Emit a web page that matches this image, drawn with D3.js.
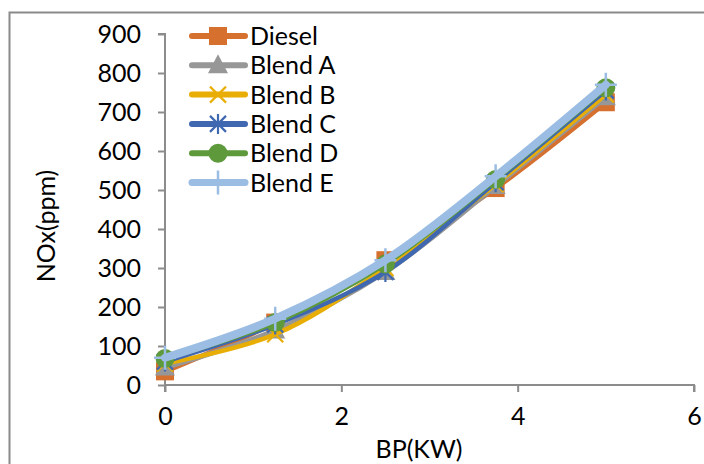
<!DOCTYPE html>
<html><head><meta charset="utf-8">
<script src="https://cdn.jsdelivr.net/npm/d3@7"></script>
<style>html,body{margin:0;padding:0;background:#fff;}svg{display:block;}</style>
</head><body>
<svg id="c" width="704" height="464"></svg>
<script>
const xValues = [0, 1.25, 2.5, 3.75, 5];
const seriesNames = ["Diesel", "Blend A", "Blend B", "Blend C", "Blend D", "Blend E"];
const diesel = [35, 160, 320, 505, 725];
const blendA = [45, 140, 290, 510, 738];
const blendB = [55, 130, 300, 515, 745];
const blendC = [60, 155, 290, 520, 755];
const blendD = [68, 160, 310, 527, 762];
const blendE = [70, 170, 320, 535, 770];
const xTicks = [0, 2, 4, 6];
const yTicks = [0, 100, 200, 300, 400, 500, 600, 700, 800, 900];

const colors = ["#D6702E", "#979797", "#E9AE06", "#3F68B1", "#5E9A3B", "#9BBDE3"];
const widths = [5, 5, 4.5, 4.5, 4.5, 8];
const markers = ["square", "triangle", "x", "star", "circle", "plus"];
const allSeries = [diesel, blendA, blendB, blendC, blendD, blendE];

const svg = d3.select("#c");
const font = "Lato, 'Open Sans', sans-serif";
const fsize = "25px";
const axisColor = "#8c8c8c";

svg.append("rect").attr("x", 9.5).attr("y", 12.5).attr("width", 720).attr("height", 480)
  .attr("fill", "none").attr("stroke", "#8a8a8a").attr("stroke-width", 2);

const x = d3.scaleLinear().domain([0, 6]).range([165, 694]);
const y = d3.scaleLinear().domain([0, 900]).range([385, 34]);

const yAxis = svg.append("g").attr("transform", "translate(165,0)")
  .call(d3.axisLeft(y).tickValues(yTicks).tickSize(7).tickPadding(17).tickFormat(d3.format("d")));
const xAxis = svg.append("g").attr("transform", "translate(0,385)")
  .call(d3.axisBottom(x).tickValues(xTicks).tickSize(7).tickPadding(15).tickFormat(d3.format("d")));
[yAxis, xAxis].forEach(g => {
  g.select(".domain").attr("stroke", axisColor).attr("stroke-width", 2);
  g.selectAll(".tick line").attr("stroke", axisColor).attr("stroke-width", 2);
  g.selectAll(".tick text").attr("fill", "#000").style("font-family", font).style("font-size", fsize);
});
yAxis.select(".domain").attr("d", `M-7,${y(900)}H0V${y(0)}`);
xAxis.select(".domain").attr("d", `M${x(0)},7V0H${x(6)}V7`);

svg.append("text").attr("x", 419).attr("y", 458).attr("text-anchor", "middle")
  .style("font-family", font).style("font-size", fsize).text("BP(KW)");
svg.append("text").attr("transform", "translate(55,226) rotate(-90)").attr("text-anchor", "middle")
  .style("font-family", font).style("font-size", fsize).text("NOx(ppm)");

function drawMarker(g, type, cx, cy, color) {
  if (type === "square") {
    g.append("rect").attr("x", cx - 9).attr("y", cy - 9).attr("width", 18).attr("height", 18).attr("fill", color);
  } else if (type === "triangle") {
    g.append("path").attr("d", `M${cx},${cy - 11}L${cx + 10},${cy + 8}L${cx - 10},${cy + 8}Z`).attr("fill", color);
  } else if (type === "x") {
    g.append("path").attr("d", `M${cx - 8},${cy - 8}L${cx + 8},${cy + 8}M${cx + 8},${cy - 8}L${cx - 8},${cy + 8}`)
      .attr("stroke", color).attr("stroke-width", 2.2).attr("fill", "none");
  } else if (type === "star") {
    g.append("path").attr("d", `M${cx - 8},${cy - 8}L${cx + 8},${cy + 8}M${cx + 8},${cy - 8}L${cx - 8},${cy + 8}M${cx},${cy - 10}L${cx},${cy + 10}`)
      .attr("stroke", color).attr("stroke-width", 2.2).attr("fill", "none");
  } else if (type === "circle") {
    g.append("circle").attr("cx", cx).attr("cy", cy).attr("r", 9.5).attr("fill", color);
  } else if (type === "plus") {
    g.append("path").attr("d", `M${cx - 11},${cy}L${cx + 11},${cy}M${cx},${cy - 12}L${cx},${cy + 12}`)
      .attr("stroke", color).attr("stroke-width", 2.5).attr("fill", "none");
  }
}

const line = d3.line().x((d, i) => x(xValues[i])).y(d => y(d)).curve(d3.curveCatmullRom.alpha(0.5));
const plot = svg.append("g");
allSeries.forEach((vals, s) => {
  const g = plot.append("g");
  g.append("path").datum(vals).attr("d", line).attr("fill", "none")
    .attr("stroke", colors[s]).attr("stroke-width", widths[s]).attr("stroke-linejoin", "round").attr("stroke-linecap", "round");
  vals.forEach((v, i) => drawMarker(g, markers[s], x(xValues[i]), y(v), colors[s]));
});

const leg = svg.append("g");
seriesNames.forEach((name, i) => {
  const cy = 36 + i * 29.3;
  const g = leg.append("g");
  g.append("line").attr("x1", 192).attr("x2", 245).attr("y1", cy).attr("y2", cy)
    .attr("stroke", colors[i]).attr("stroke-width", i === 5 ? 7 : 6).attr("stroke-linecap", "round");
  drawMarker(g, markers[i], 218, cy, colors[i]);
  g.append("text").attr("x", 250).attr("y", cy).attr("dy", "0.36em")
    .style("font-family", font).style("font-size", fsize).text(name);
});
</script>
</body></html>
